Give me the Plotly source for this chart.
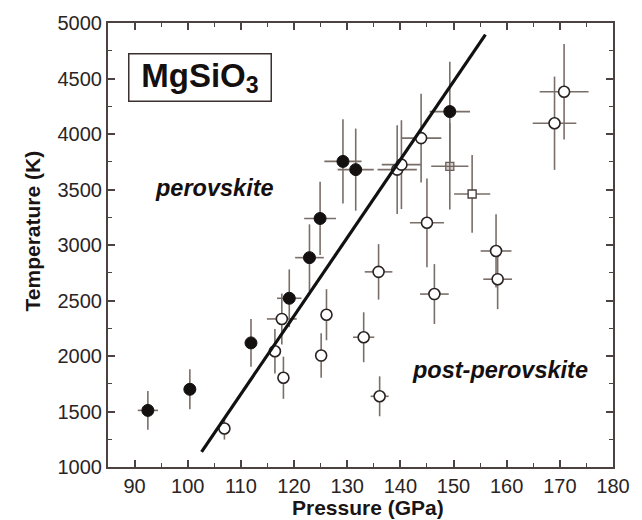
import plotly.graph_objects as go

# perovskite (filled circles)
P_pv = [92.5, 100.4, 111.9, 119.1, 122.9, 124.9, 129.2, 131.6, 149.3]
T_pv = [1510, 1700, 2118, 2520, 2886, 3239, 3753, 3679, 4202]
dP_pv = [1.9, 0.8, 0.8, 2.3, 2.7, 3.0, 3.5, 3.4, 3.8]
dT_pv = [175, 180, 215, 260, 300, 330, 380, 370, 450]

# post-perovskite (open circles)
P_ppv = [106.9, 116.4, 118.0, 117.7, 125.1, 126.1, 133.1, 136.1, 135.9,
         139.4, 140.2, 143.9, 145.0, 146.4, 158.3, 158.0, 169.0, 170.8]
T_ppv = [1347, 2043, 1804, 2334, 2004, 2372, 2169, 1637, 2758,
         3679, 3724, 3963, 3200, 2558, 2692, 2946, 4097, 4381]
dP_ppv = [0.8, 0.8, 0.8, 2.8, 0.8, 0.8, 2.0, 1.7, 2.6,
          3.7, 3.7, 3.8, 3.2, 2.7, 2.7, 2.9, 4.1, 4.6]
dT_ppv = [100, 200, 190, 230, 200, 230, 225, 180, 250,
          400, 400, 400, 400, 270, 270, 330, 420, 430]

# square symbols
P_sqx = [149.3]; T_sqx = [3709]; dP_sqx = [3.5]; dT_sqx = [390]
P_sq = [153.5]; T_sq = [3460]; dP_sq = [3.4]; dT_sq = [350]

# phase boundary line end points
P_line = [102.6, 156.0]
T_line = [1137, 4895]

ERR = '#7a6e69'
FONT = 'Liberation Sans, Arial, sans-serif'

def eb(arr):
    return dict(type='data', array=arr, visible=True, width=0, thickness=1.6, color=ERR)

fig = go.Figure()
fig.add_trace(go.Scatter(x=P_ppv, y=T_ppv, mode='markers',
                         error_x=eb(dP_ppv), error_y=eb(dT_ppv),
                         marker=dict(symbol='circle', size=11, color='white',
                                     line=dict(color='#2a2222', width=1.6))))
fig.add_trace(go.Scatter(x=P_sqx, y=T_sqx, mode='markers',
                         error_x=eb(dP_sqx), error_y=eb(dT_sqx),
                         marker=dict(symbol='square-cross', size=8, color='#d8d0cc',
                                     line=dict(color='#6b605b', width=1.3))))
fig.add_trace(go.Scatter(x=P_sq, y=T_sq, mode='markers',
                         error_x=eb(dP_sq), error_y=eb(dT_sq),
                         marker=dict(symbol='square', size=8, color='white',
                                     line=dict(color='#4a4040', width=1.4))))
fig.add_trace(go.Scatter(x=P_pv, y=T_pv, mode='markers',
                         error_x=eb(dP_pv), error_y=eb(dT_pv),
                         marker=dict(symbol='circle', size=12, color='#141010',
                                     line=dict(color='#141010', width=1))))
fig.add_trace(go.Scatter(x=P_line, y=T_line, mode='lines',
                         line=dict(color='#111111', width=3.2)))

axis_common = dict(showline=True, linecolor='#4d4242', linewidth=2, mirror='ticks',
                   ticks='inside', ticklen=7, tickwidth=1.6, tickcolor='#4d4242',
                   showgrid=False, zeroline=False, ticklabeloverflow='allow',
                   tickfont=dict(family=FONT, size=20, color='#2a2424'))

fig.update_xaxes(range=[85, 180], dtick=10, tick0=90,
                 minor=dict(ticks='inside', ticklen=4, tickwidth=1.4, dtick=5, tick0=85,
                            tickcolor='#4d4242', showgrid=False),
                 **axis_common)
fig.update_yaxes(range=[1000, 5000], dtick=500,
                 minor=dict(ticks='inside', ticklen=4, tickwidth=1.4, dtick=250,
                            tickcolor='#4d4242', showgrid=False),
                 **axis_common)

# axis titles
fig.add_annotation(x=0.514, y=-0.091, xref='paper', yref='paper', showarrow=False,
                   xanchor='center', yanchor='middle',
                   text='<b>Pressure (GPa)</b>',
                   font=dict(family=FONT, size=21, color='#1a1414'))
fig.add_annotation(x=-0.150, y=0.531, xref='paper', yref='paper', showarrow=False,
                   xanchor='center', yanchor='middle', textangle=-90,
                   text='<b>Temperature (K)</b>',
                   font=dict(family=FONT, size=21, color='#1a1414'))

fig.add_annotation(x=0.183, y=0.878, xref='paper', yref='paper', showarrow=False,
                   xanchor='center', yanchor='middle',
                   text='<b>MgSiO<sub>3</sub></b>', width=139, height=44,
                   font=dict(family=FONT, size=33, color='#141010'),
                   bordercolor='#3a3030', borderwidth=1.5, borderpad=1, bgcolor='white')
fig.add_annotation(x=105.0, y=3514, showarrow=False,
                   text='<b><i>perovskite</i></b>',
                   font=dict(family=FONT, size=23.5, color='#141010'))
fig.add_annotation(x=158.7, y=1870, showarrow=False,
                   text='<b><i>post-perovskite</i></b>',
                   font=dict(family=FONT, size=23.5, color='#141010'))

fig.update_layout(width=642, height=520, showlegend=False,
                  margin=dict(l=108, r=15, t=21, b=53),
                  plot_bgcolor='white', paper_bgcolor='white')

fig.write_html('out.html')
